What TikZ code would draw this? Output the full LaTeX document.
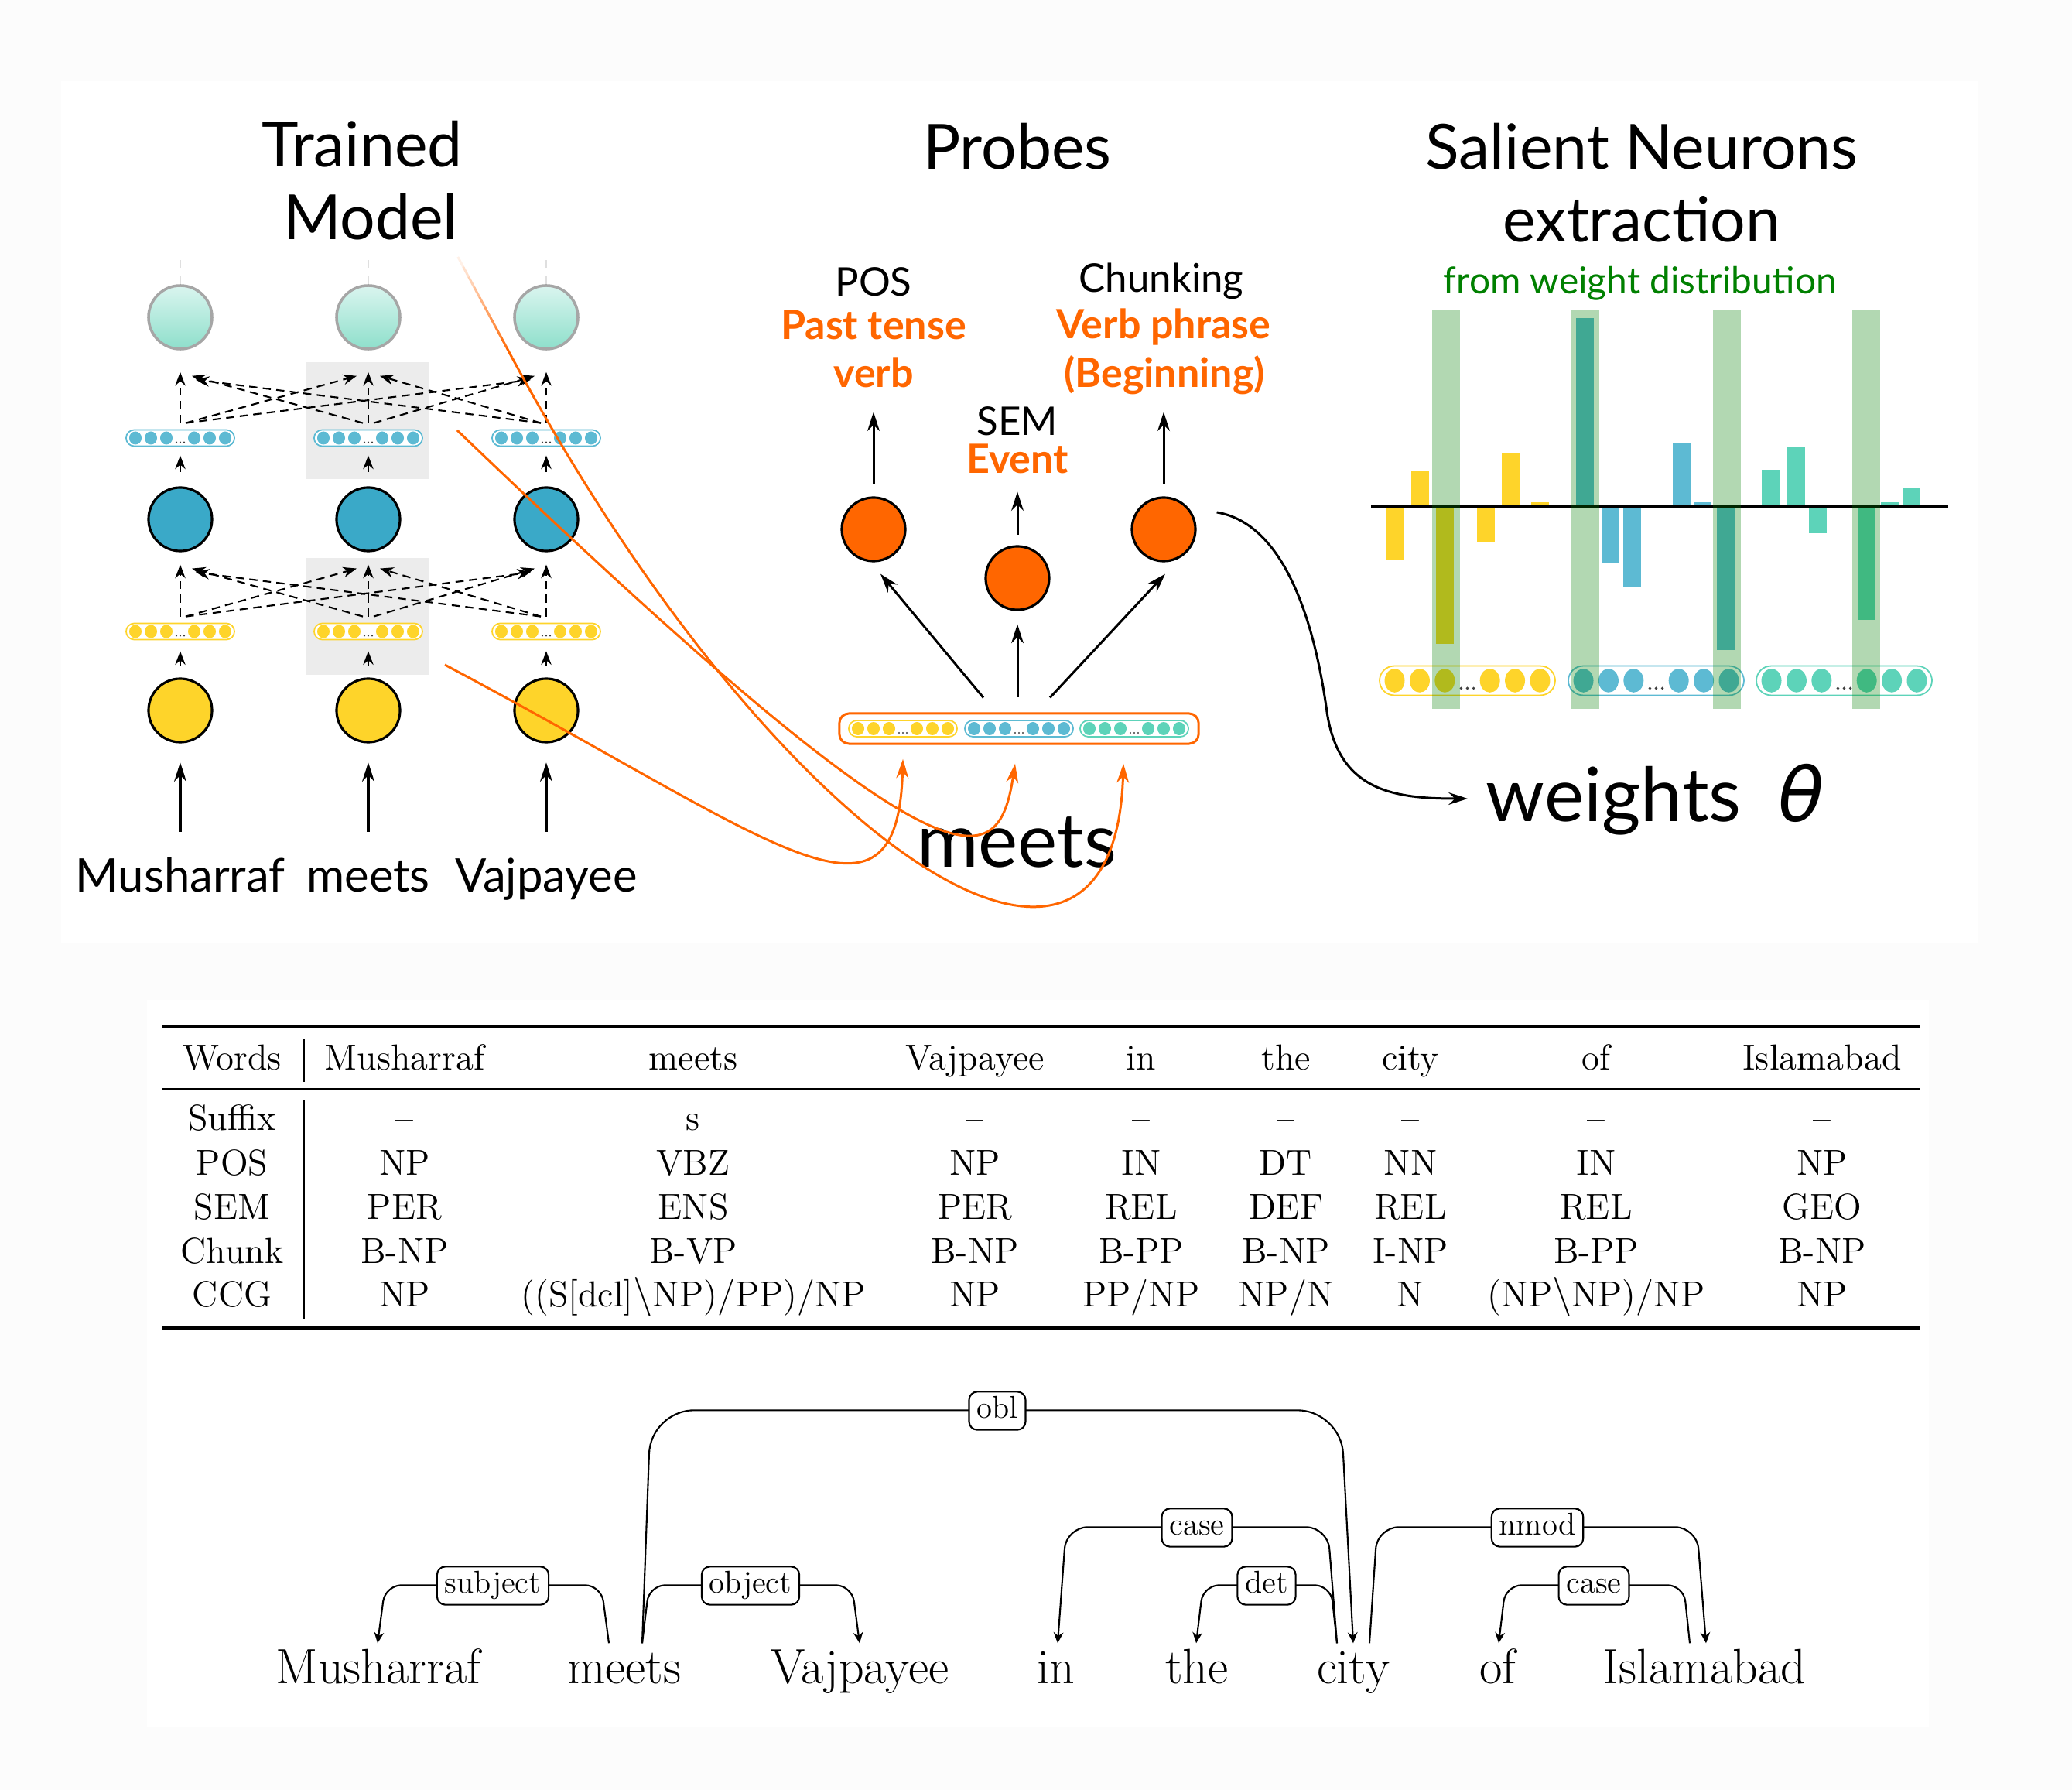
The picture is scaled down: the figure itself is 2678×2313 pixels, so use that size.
\documentclass[tikz,border=0pt]{standalone}
\usepackage{fontspec}
\newfontfamily\avn{Lato}
\newfontfamily\djv{DejaVu Sans}
\usepackage{tikz}
\usetikzlibrary{arrows,arrows.meta,calc,positioning,shapes.misc}

\definecolor{orng}{HTML}{FF6600}
\definecolor{ylw}{HTML}{FED42A}
\definecolor{blu}{HTML}{5DBAD3}
\definecolor{bludk}{HTML}{3AA9C8}
\definecolor{tel}{HTML}{5DD3B9}
\definecolor{teltop}{HTML}{DAF5EF}
\definecolor{telbot}{HTML}{8EDFCB}
\definecolor{grn}{HTML}{008000}
\definecolor{panel}{HTML}{FCFCFC}
\definecolor{hilite}{HTML}{ECECEC}

% vector of neurons: name, position, colour, x scale, y scale
\newcommand{\vpill}[5]{%
  \node[rounded rectangle, draw=#3, fill=white, line width=0.5pt, inner sep=0pt,
        minimum width=#4*1.4cm, minimum height=#5*0.21cm] (#1) at (#2) {};
  \foreach \dx in {-58,-38,-18,18,38,58}
    \fill[#3] ($(#1)+(#4*\dx,0)$) ellipse ({#4*8} and {#5*8.5});
  \foreach \dx in {-5,0,5}
    \fill[black!75] ($(#1)+(#4*\dx,#5*5.5)$) circle ({#4*1.2});
}

\begin{document}
\begin{tikzpicture}[x=0.01cm, y=-0.01cm, >={Stealth[length=7pt,width=4.5pt]},
  tcirc/.style={circle, draw=gray!70, line width=1pt, top color=teltop, bottom color=telbot, minimum size=0.82cm, inner sep=0pt},
  bcirc/.style={circle, draw, line width=0.9pt, fill=bludk, minimum size=0.82cm, inner sep=0pt},
  ycirc/.style={circle, draw, line width=0.9pt, fill=ylw, minimum size=0.82cm, inner sep=0pt},
  pcirc/.style={circle, draw, line width=0.9pt, fill=orng, minimum size=0.82cm, inner sep=0pt},
  ttl/.style={font=\avn\fontsize{22.9}{27.5}\selectfont, inner sep=0pt, anchor=base},
  mword/.style={font=\avn\fontsize{17}{20}\selectfont, inner sep=0pt, text height=12pt, anchor=base},
  plbl/.style={font=\avn\fontsize{14.5}{17}\selectfont, inner sep=0pt, anchor=base},
  plbo/.style={font=\avn\bfseries\fontsize{14.8}{17}\selectfont, text=orng, inner sep=0pt, anchor=base},
  big/.style={font=\avn\fontsize{27.5}{33}\selectfont, inner sep=0pt},
  dsh/.style={dash pattern=on 3pt off 2pt, line width=0.6pt, -{Stealth[length=5pt,width=3.8pt]}},
  tcell/.style={font=\fontsize{13.3}{16}\selectfont, inner sep=0pt, anchor=base},
  dword/.style={font=\fontsize{18.2}{22}\selectfont, inner sep=0pt, text height=14.5pt, text depth=4pt, anchor=base},
  dlbl/.style={draw, fill=white, rounded corners=3pt, line width=0.6pt, inner xsep=2.8pt, inner ysep=0pt,
    minimum height=14pt, text height=8pt, text depth=2.4pt, font=\fontsize{11.6}{14}\selectfont},
  dep/.style={line width=0.6pt, rounded corners=6pt, -{Stealth[length=4pt,width=3.6pt]}}]

\useasboundingbox (0,0) rectangle (2678,2313);
\fill[panel] (0,0) rectangle (2678,2313);
\fill[white] (79,105) rectangle (2557,1218);
\fill[white] (190,1292) rectangle (2493,2232);

% trained model
\node[ttl] (ttrain) at (468,216) {Trained};
\node[ttl] (tmodel) at (479,310) {Model};
\fill[hilite] (396,468) rectangle (554,619);
\fill[hilite] (396,721) rectangle (554,872);
\foreach \cc/\x/\w in {1/233/Musharraf, 2/476/meets, 3/706/Vajpayee} {
  \node[tcirc] (ct\cc) at (\x,410) {};
  \draw[gray!25, dashed, line width=0.8pt] (ct\cc.north) -- ++(0,-40);
  \vpill{pb\cc}{\x,566}{blu}{1}{1}
  \node[bcirc] (cb\cc) at (\x,671) {};
  \vpill{py\cc}{\x,816}{ylw}{1}{1}
  \node[ycirc] (cy\cc) at (\x,918) {};
  \node[mword] (w\cc) at (\x,1153) {\w};
  \draw[->, line width=0.9pt, shorten <=10pt, shorten >=7pt] (w\cc.north) -- (cy\cc.south);
  \draw[dsh, shorten <=4.5pt, shorten >=4pt] (cy\cc.north) -- (py\cc.south);
  \draw[dsh, shorten <=5.2pt, shorten >=3.2pt] (cb\cc.north) -- (pb\cc.south);
}
\foreach \src/\tgt/\gap in {pb/ct/28, py/cb/16}
  \foreach \i in {1,2,3}
    \foreach \j in {1,2,3} {
      \pgfmathsetmacro\dd{\j-\i}
      \draw[dsh] ($(\src\i.north)+({7*sign(\dd)},-8)$) --
        ($(\tgt\j.south)+({-sign(\dd)*(10+5*abs(\dd))},{\gap+5*abs(\dd)})$);
    }

% probes
\node[ttl] (tprobe) at (1315,219) {Probes};
\node[plbl] (lpos) at (1129,383) {POS};
\node[plbo] (lpos1) at (1129,439) {Past tense};
\node[plbo] (lpos2) at (1129,501) {verb};
\node[plbl] (lchk) at (1501,378) {Chunking};
\node[plbo] (lchk1) at (1504,438) {Verb phrase};
\node[plbo] (lchk2) at (1505,501) {(Beginning)};
\node[plbl] (lsem) at (1315,563) {SEM};
\node[plbo] (lsem1) at (1315,612) {Event};
\node[pcirc] (po1) at (1129,684) {};
\node[pcirc] (po2) at (1315,747) {};
\node[pcirc] (po3) at (1504,684) {};
\node[draw=orng, line width=0.85pt, fill=white, rounded corners=3.5pt, minimum width=4.64cm,
      minimum height=0.39cm, inner sep=0pt] (pv) at (1317,941.5) {};
\vpill{ppy}{1167,941.5}{ylw}{1}{1}
\vpill{ppb}{1317,941.5}{blu}{1}{1}
\vpill{ppt}{1466,941.5}{tel}{1}{1}
\draw[->, line width=0.85pt] ($(pv.north)+(-46,-19)$) -- ($(po1.south)+(9,15)$);
\draw[->, line width=0.85pt] ($(pv.north)+(-2,-19)$) -- ($(po2.south)+(0,17)$);
\draw[->, line width=0.85pt] ($(pv.north)+(40,-19)$) -- ($(po3.south)+(2,15)$);
\draw[->, line width=0.85pt] ($(po1.north)+(0,-16)$) -- ++(0,-93);
\draw[->, line width=0.85pt] ($(po2.north)+(0,-13)$) -- ++(0,-56);
\draw[->, line width=0.85pt] ($(po3.north)+(0,-16)$) -- ++(0,-93);
\node[big, anchor=base] (bigm) at (1314,1121) {meets};

% salient neurons
\node[ttl] (tsal) at (2122,219) {Salient Neurons};
\node[ttl] (textr) at (2122,313) {extraction};
\node[font=\avn\fontsize{13.6}{16}\selectfont, text=grn, anchor=base, inner sep=0pt] (tfrom) at (2120,380) {from weight distribution};
\foreach \bx/\bv/\bc in {1803.5/-69/ylw, 1835.5/46/ylw, 1867.5/-177/ylw, 1920.5/-46/ylw, 1952/69/ylw, 1990.5/6/ylw,
    2048.5/244/blu, 2081.5/-73/blu, 2109.5/-103/blu, 2173.5/82/blu, 2200.5/6/blu, 2230.5/-185/blu,
    2288.5/48/tel, 2321.5/77/tel, 2349.5/-34/tel, 2412.5/-146/tel, 2442.5/6/tel, 2470.5/24/tel}
  \fill[\bc] ({\bx-11.5},655) rectangle ({\bx+11.5},{655-(\bv)});
\vpill{sp1}{1896.5,879.5}{ylw}{1.62}{1.8}
\vpill{sp2}{2140.5,879.5}{blu}{1.62}{1.8}
\vpill{sp3}{2383.5,879.5}{tel}{1.62}{1.8}
\draw[line width=1.1pt] (1772,655) -- (2518,655);
\foreach \hx in {1869,2048.5,2232,2412}
  \fill[grn, opacity=0.3] ({\hx-18},400) rectangle ({\hx+18},916);
\node[big, anchor=base west] (wts) at (1920,1062) {weights};
\node[big, anchor=base west] (tht) at (2298,1062) {\djv\itshape θ};
\coordinate (bnd) at (1715,920);
\draw[->, line width=0.85pt] ($(po3.east)+(26,-22)$) .. controls +(90,15) and +(-15,-110) .. (bnd)
  .. controls +(15,100) and +(-100,0) .. ($(wts.base west)+(-23,-30)$);

% orange connectors from the meets column
\draw[orng, line width=0.85pt, ->] ($(py2.east)+(28,43)$) .. controls +(426,226) and +(-7,250) .. ($(ppy.south)+(0,28)$);
\draw[orng, line width=0.85pt, ->] ($(pb2.east)+(44,-10)$) .. controls +(640,614) and +(-22,144) .. ($(ppb.south)+(-5,34)$);
\coordinate (fa) at ($(ct2.east)+(73,-78)$);
\coordinate (fb) at ($(fa)+(70,130)$);
\foreach \k [evaluate=\k as \op using \k/10, evaluate=\k as \pa using (\k-1)/10] in {1,...,10}
  \draw[orng, line width=0.85pt, opacity=\op] ($(fa)!\pa!(fb)$) -- ($(fa)!\op!(fb)$);
\draw[orng, line width=0.85pt, ->] (fb) .. controls +(340,631) and +(-12,394) .. ($(ppt.south)+(-14,34)$);

% table
\draw[line width=1.1pt] (209,1327) -- (2482,1327);
\draw[line width=0.7pt] (209,1407) -- (2482,1407);
\draw[line width=1.1pt] (209,1716) -- (2482,1716);
\draw[line width=0.4pt] (393,1342) -- (393,1398);
\draw[line width=0.4pt] (393,1422) -- (393,1705);
\foreach \ry/\lb [count=\rr] in {1382/Words, 1460/Suffix, 1518/POS, 1575/SEM, 1632/Chunk, 1688/CCG}
  \node[tcell] (rl\rr) at (300,\ry) {\lb};
\foreach \cx/\tw/\tsf/\tps/\tsm/\tck/\tcg [count=\k] in {
    523/Musharraf/--/NP/PER/B-NP/NP,
    896/meets/s/VBZ/ENS/B-VP/{((S[dcl]$\backslash$NP)/PP)/NP},
    1260/Vajpayee/--/NP/PER/B-NP/NP,
    1475/in/--/IN/REL/B-PP/{PP/NP},
    1662/the/--/DT/DEF/B-NP/{NP/N},
    1823/city/--/NN/REL/I-NP/N,
    2063/of/--/IN/REL/B-PP/{(NP$\backslash$NP)/NP},
    2355/Islamabad/--/NP/GEO/B-NP/NP} {
  \node[tcell] (hw\k) at (\cx,1382) {\tw};
  \node[tcell] (sf\k) at (\cx,1460) {\tsf};
  \node[tcell] (ps\k) at (\cx,1518) {\tps};
  \node[tcell] (sm\k) at (\cx,1575) {\tsm};
  \node[tcell] (ck\k) at (\cx,1632) {\tck};
  \node[tcell] (cg\k) at (\cx,1688) {\tcg};
}

% dependency tree
\node[dword] (dmu) at (489,2175) {Musharraf};
\node[dword] (dme) at (807,2175) {meets};
\node[dword] (dva) at (1111,2175) {Vajpayee};
\node[dword] (din) at (1365,2175) {in};
\node[dword] (dth) at (1547,2175) {the};
\node[dword] (dci) at (1749,2175) {city};
\node[dword] (dof) at (1936,2175) {of};
\node[dword] (dis) at (2203,2175) {Islamabad};
\draw[dep] ($(dme.north)+(-20,0)$) -- ($(dme.north)+(-30,-75)$) -- ($(dmu.north)+(9,-75)$) -- ($(dmu.north)+(-1,0)$);
\draw[dep] ($(dme.north)+(23,0)$) -- ($(dme.north)+(32,-75)$) -- ($(dva.north)+(-10,-75)$) -- (dva.north);
\draw[dep, rounded corners=16pt] ($(dme.north)+(23,0)$) -- ($(dme.north)+(34,-301)$) -- ($(dci.north)+(-16,-301)$) -- (dci.north);
\draw[dep, rounded corners=8pt] ($(dci.north)+(-21,0)$) -- ($(dci.north)+(-33,-150)$) -- ($(din.north)+(13,-150)$) -- ($(din.north)+(2,0)$);
\draw[dep] ($(dci.north)+(-21,0)$) -- ($(dci.north)+(-29,-75)$) -- ($(dth.north)+(8,-75)$) -- ($(dth.north)+(-1,0)$);
\draw[dep, rounded corners=8pt] ($(dci.north)+(21,0)$) -- ($(dci.north)+(31,-150)$) -- ($(dis.north)+(-10,-150)$) -- ($(dis.north)+(2,0)$);
\draw[dep] ($(dis.north)+(-19,0)$) -- ($(dis.north)+(-27,-75)$) -- ($(dof.north)+(10,-75)$) -- ($(dof.north)+(1,0)$);
\node[dlbl] (lsubj) at (637,2049) {subject};
\node[dlbl] (lobj) at (970,2049) {object};
\node[dlbl] (lobl) at (1289,1823) {obl};
\node[dlbl] (lcs1) at (1547,1974) {case};
\node[dlbl] (ldet) at (1637,2049) {det};
\node[dlbl] (lnmod) at (1987,1974) {nmod};
\node[dlbl] (lcs2) at (2060,2049) {case};
\end{tikzpicture}
\end{document}
